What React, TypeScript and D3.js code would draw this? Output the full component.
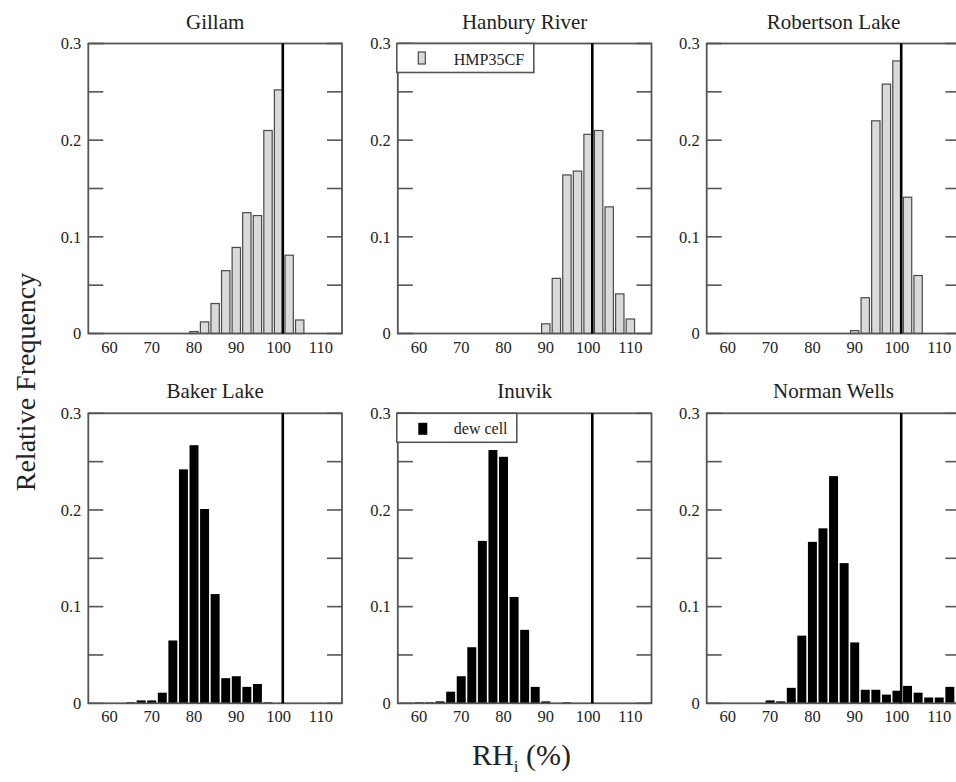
import React from 'react';
import * as d3 from 'd3';

// ---- data ----
const stationNames = ['Gillam', 'Hanbury River', 'Robertson Lake', 'Baker Lake', 'Inuvik', 'Norman Wells'];

const gillamBins = [80, 82.5, 85, 87.5, 90, 92.5, 95, 97.5, 100, 102.5, 105];
const gillamFreq = [0.002, 0.012, 0.031, 0.065, 0.089, 0.125, 0.122, 0.21, 0.252, 0.081, 0.014];

const hanburyBins = [90, 92.5, 95, 97.5, 100, 102.5, 105, 107.5, 110];
const hanburyFreq = [0.01, 0.057, 0.164, 0.168, 0.206, 0.21, 0.131, 0.041, 0.015];

const robertsonBins = [90, 92.5, 95, 97.5, 100, 102.5, 105];
const robertsonFreq = [0.003, 0.037, 0.22, 0.258, 0.282, 0.141, 0.06];

const bakerBins = [65, 67.5, 70, 72.5, 75, 77.5, 80, 82.5, 85, 87.5, 90, 92.5, 95, 97.5];
const bakerFreq = [0.001, 0.003, 0.003, 0.011, 0.065, 0.242, 0.267, 0.201, 0.113, 0.026, 0.028, 0.017, 0.02, 0.001];

const inuvikBins = [60, 62.5, 65, 67.5, 70, 72.5, 75, 77.5, 80, 82.5, 85, 87.5, 90, 92.5, 95];
const inuvikFreq = [0.001, 0.001, 0.002, 0.012, 0.028, 0.058, 0.168, 0.262, 0.255, 0.11, 0.076, 0.017, 0.002, 0, 0.001];

const normanBins = [70, 72.5, 75, 77.5, 80, 82.5, 85, 87.5, 90, 92.5, 95, 97.5, 100, 102.5, 105, 107.5, 110, 112.5];
const normanFreq = [0.003, 0.002, 0.016, 0.07, 0.167, 0.181, 0.235, 0.145, 0.063, 0.014, 0.014, 0.009, 0.013, 0.018, 0.011, 0.006, 0.006, 0.017];

const binWidth = 2.5;
const xDomain = [55, 115];
const yDomain = [0, 0.3];
const xTicks = [60, 70, 80, 90, 100, 110];
const yMajorTicks = [0, 0.1, 0.2, 0.3];
const yMinorTicks = [0.05, 0.15, 0.25];
const yTickLabels = ['0', '0.1', '0.2', '0.3'];
const refLineX = 101;
const legendLabels = ['HMP35CF', 'dew cell'];

const panelBins = [gillamBins, hanburyBins, robertsonBins, bakerBins, inuvikBins, normanBins];
const panelFreq = [gillamFreq, hanburyFreq, robertsonFreq, bakerFreq, inuvikFreq, normanFreq];

const FONT = '"Liberation Serif", "DejaVu Serif", "Times New Roman", serif';

export default function App() {
  const colX = [88.3, 397.8, 706.7];
  const rowY = [43.5, 413.3];
  const W = 253.7;
  const H = 290;

  const x = d3.scaleLinear().domain(xDomain).range([0, W]);
  const y = d3.scaleLinear().domain(yDomain).range([H, 0]);
  const binPx = x(xDomain[0] + binWidth) - x(xDomain[0]);

  const frameColor = '#555';
  const textColor = '#222';

  return (
    <svg width={956} height={782} style={{ position: 'absolute', left: 0, top: 0, background: '#fff' }}>
      <rect x={0} y={0} width={956} height={782} fill="#fff" />
      {stationNames.map((name, i) => {
        const row = Math.floor(i / 3);
        const col = i % 3;
        const gray = row === 0;
        const bins = panelBins[i];
        const freq = panelFreq[i];
        const bw = gray ? binPx - 2.2 : binPx - 1.6;
        return (
          <g key={name} transform={`translate(${colX[col]},${rowY[row]})`}>
            <text x={W / 2} y={-15} textAnchor="middle" fontFamily={FONT} fontSize={21} fill={textColor}>
              {name}
            </text>
            {bins.map((b, j) =>
              freq[j] > 0 ? (
                <rect
                  key={j}
                  x={x(b) - bw / 2}
                  y={y(freq[j])}
                  width={bw}
                  height={H - y(freq[j])}
                  fill={gray ? '#dadada' : '#000'}
                  stroke={gray ? '#4a4a4a' : 'none'}
                  strokeWidth={gray ? 1.2 : 0}
                />
              ) : null
            )}
            <rect x={0} y={0} width={W} height={H} fill="none" stroke={frameColor} strokeWidth={1.8} />
            {[...yMajorTicks, ...yMinorTicks].map((t) => (
              <g key={t}>
                <line x1={0} x2={15} y1={y(t)} y2={y(t)} stroke={frameColor} strokeWidth={1.6} />
                <line x1={W - 15} x2={W} y1={y(t)} y2={y(t)} stroke={frameColor} strokeWidth={1.6} />
              </g>
            ))}
            <line x1={x(refLineX)} x2={x(refLineX)} y1={0} y2={H} stroke="#000" strokeWidth={2.6} />
            {yMajorTicks.map((t, k) => (
              <text key={t} x={-7} y={y(t)} dy="0.35em" textAnchor="end" fontFamily={FONT} fontSize={16.5} fill={textColor}>
                {yTickLabels[k]}
              </text>
            ))}
            {xTicks.map((t) => (
              <text key={t} x={x(t)} y={H + 19} textAnchor="middle" fontFamily={FONT} fontSize={16.5} fill={textColor}>
                {t}
              </text>
            ))}
            {col === 1 && (
              <g>
                <rect x={-1} y={0} width={gray ? 137 : 120} height={29} fill="#fff" stroke={frameColor} strokeWidth={1.6} />
                <rect
                  x={20.5}
                  y={gray ? 8.5 : 9.5}
                  width={gray ? 7 : 9}
                  height={12}
                  fill={gray ? '#dadada' : '#000'}
                  stroke={gray ? '#4a4a4a' : 'none'}
                  strokeWidth={1.2}
                />
                <text x={56} y={21} fontFamily={FONT} fontSize={16} fill={textColor}>
                  {legendLabels[row]}
                </text>
              </g>
            )}
          </g>
        );
      })}
      <text
        transform="translate(35,382) rotate(-90)"
        textAnchor="middle"
        fontFamily={FONT}
        fontSize={28}
        fill={textColor}
      >
        Relative Frequency
      </text>
      <text x={472} y={765} fontFamily={FONT} fontSize={30} fill={textColor}>
        RH<tspan fontSize={17} dy={7}>i</tspan>
        <tspan dy={-7}> (%)</tspan>
      </text>
    </svg>
  );
}
